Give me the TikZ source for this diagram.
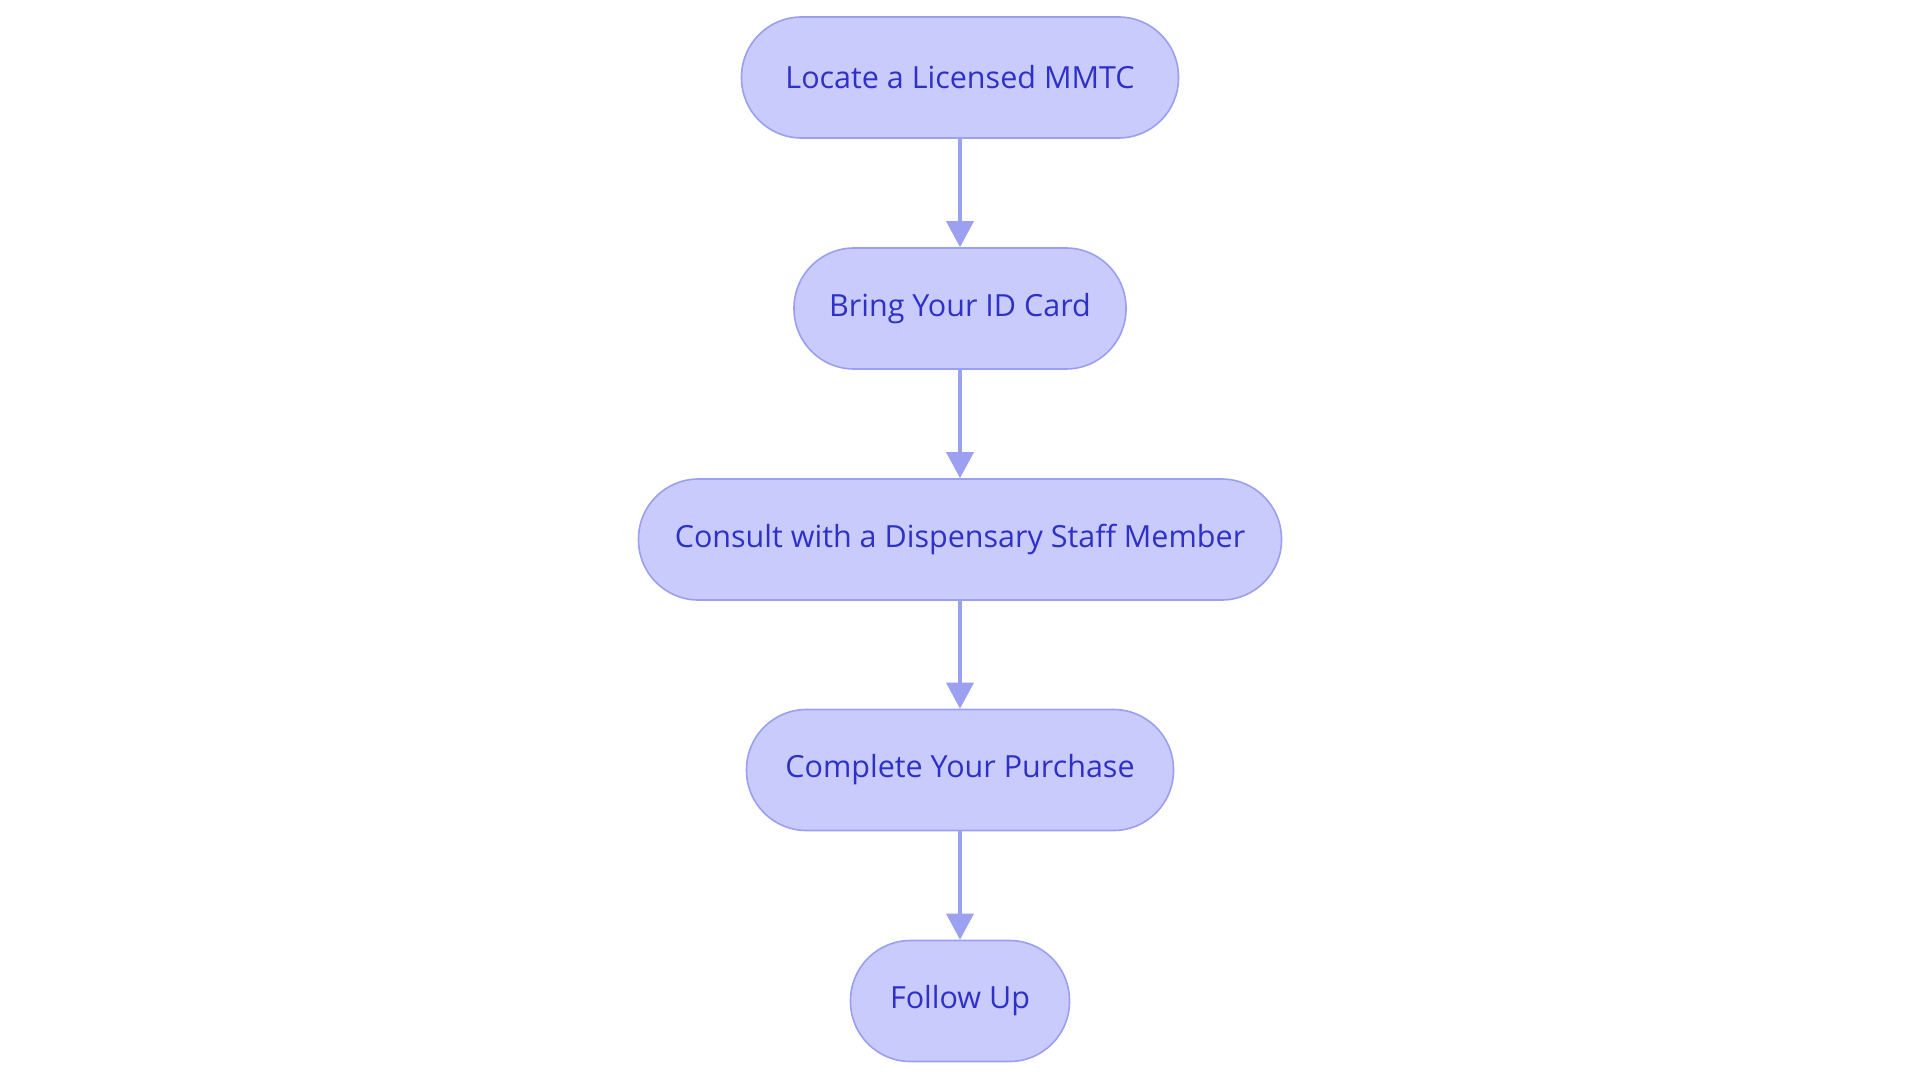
\documentclass[tikz,border=0pt]{standalone}
\usepackage{fontspec}
\setmainfont{Open Sans}
\usetikzlibrary{arrows.meta}
\definecolor{nodefill}{HTML}{C9CBFC}
\definecolor{nodeline}{HTML}{9A9FEF}
\definecolor{nodetext}{HTML}{2E31C6}
\definecolor{arrowcol}{HTML}{9BA0F0}
\tikzset{
  stepbox/.style={draw=nodeline, line width=1.6pt, fill=nodefill, text=nodetext,
    rounded corners=60pt, minimum height=121pt, inner sep=0pt,
    font=\fontsize{30.5}{36}\selectfont},
  flow/.style={draw=arrowcol, line width=3.5pt, -{Triangle[length=26pt,width=27pt]}}
}
\begin{document}
\begin{tikzpicture}[x=1pt,y=-1pt]
\useasboundingbox (0,0) rectangle (1920,1083);
\node[stepbox, minimum width=437pt] (n1) at (960,77.5) {Locate a Licensed MMTC};
\node[stepbox, minimum width=332pt] (n2) at (960,308.5) {Bring Your ID Card};
\node[stepbox, minimum width=643pt] (n3) at (960,539.5) {Consult with a Dispensary Staff Member};
\node[stepbox, minimum width=427pt] (n4) at (960,770) {Complete Your Purchase};
\node[stepbox, minimum width=219pt] (n5) at (960,1001) {Follow Up};
\draw[flow] (n1) -- (n2);
\draw[flow] (n2) -- (n3);
\draw[flow] (n3) -- (n4);
\draw[flow] (n4) -- (n5);
\end{tikzpicture}
\end{document}
